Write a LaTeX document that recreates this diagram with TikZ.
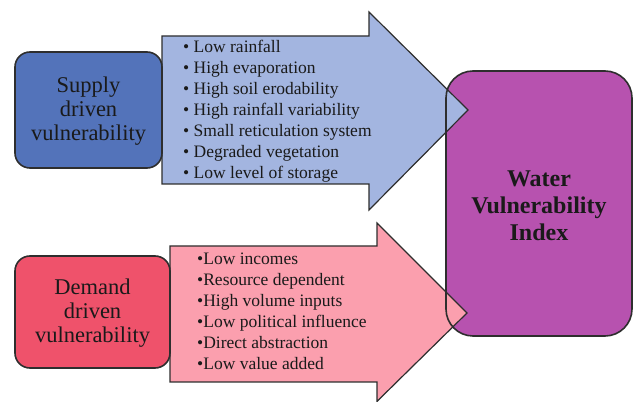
\documentclass[tikz,border=0pt]{standalone}
\usepackage{fontspec}
\setmainfont{Liberation Serif}
\definecolor{supbox}{HTML}{5373BA}
\definecolor{suparr}{HTML}{A3B5E0}
\definecolor{idxbox}{HTML}{B752AF}
\definecolor{dembox}{HTML}{EF526B}
\definecolor{demarr}{HTML}{FB9FAE}
\definecolor{edge}{HTML}{2E2E2E}
\definecolor{ink}{HTML}{1A1A1A}
\tikzset{
  headbox/.style={draw=edge, line width=1.6pt, rounded corners=15pt},
  arrowshape/.style={draw=edge, line width=1.2pt, line join=miter},
  headtext/.style={text=ink, font=\fontsize{22.5}{24}\selectfont, align=center},
  listtext/.style={text=ink, font=\fontsize{17.5}{21}\selectfont, align=left, anchor=west, inner sep=0pt},
  idxtext/.style={text=ink, font=\fontsize{24}{27}\selectfont\bfseries, align=center}
}
\begin{document}
\begin{tikzpicture}[x=1pt,y=1pt]
\useasboundingbox (0,0) rectangle (633,402);
% index box fill
\fill[idxbox, rounded corners=27pt] (446,331) rectangle (632,66);
% supply arrow
\draw[arrowshape, fill=suparr] (162,366) -- (369,366) -- (369,390) -- (468,292) -- (369,192) -- (369,218) -- (162,218) -- cycle;
% demand arrow
\draw[arrowshape, fill=demarr] (170,156) -- (377,156) -- (377,179) -- (467,89) -- (377,0.6) -- (377,20) -- (170,20) -- cycle;
% index border
\node[draw=edge, line width=1.6pt, rounded corners=27pt, minimum width=186pt, minimum height=265pt, inner sep=0pt] (idx) at (539,198.5) {};
\node[idxtext] (idxlabel) at (539,196) {Water\\Vulnerability\\Index};
% side boxes
\node[headbox, fill=supbox, minimum width=147pt, minimum height=116pt, inner sep=0pt] (sup) at (88.5,292) {};
\node[headtext] (suplabel) at (88.5,291) {Supply\\driven\\vulnerability};
\node[headbox, fill=dembox, minimum width=155pt, minimum height=112pt, inner sep=0pt] (dem) at (92.5,90) {};
\node[headtext] (demlabel) at (92.5,89) {Demand\\driven\\vulnerability};
% lists
\node[listtext] (suplist) at (183,291) {%
\textbullet\ Low rainfall\\
\textbullet\ High evaporation\\
\textbullet\ High soil erodability\\
\textbullet\ High rainfall variability\\
\textbullet\ Small reticulation system\\
\textbullet\ Degraded vegetation\\
\textbullet\ Low level of storage};
\node[listtext] (demlist) at (197,91) {%
\textbullet Low incomes\\
\textbullet Resource dependent\\
\textbullet High volume inputs\\
\textbullet Low political influence\\
\textbullet Direct abstraction\\
\textbullet Low value added};
\end{tikzpicture}
\end{document}
